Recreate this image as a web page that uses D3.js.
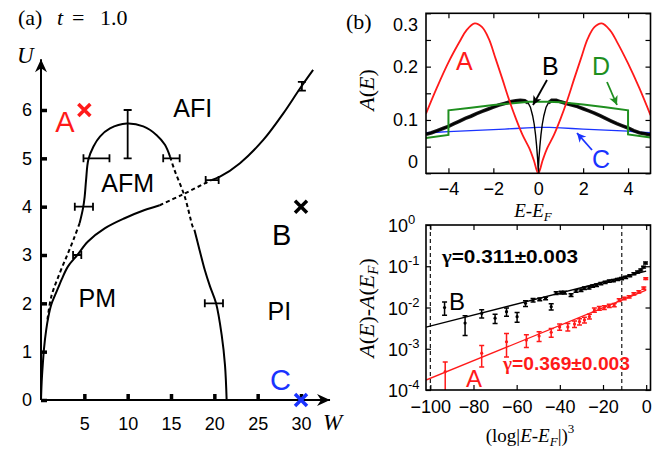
<!DOCTYPE html>
<html>
<head>
<meta charset="utf-8">
<script src="https://cdn.jsdelivr.net/npm/d3@7.9.0/dist/d3.min.js"></script>
<style>
  body { margin: 0; background: #fff; }
  svg { display: block; }
</style>
</head>
<body>
<svg id="fig" width="652" height="450"></svg>
<script>
// ---- panel (a): phase diagram, W on x, U on y ----
const wTicks = [5, 10, 15, 20, 25, 30];
const uTicks = [0, 1, 2, 3, 4, 5, 6];

const pmSolidW = [0, 0.08, 0.2, 0.35, 0.6, 0.85, 1.2, 1.62, 2.0, 2.4, 3.1, 4.19, 5.42, 7.35, 9.65, 11.96, 13.7];
const pmSolidU = [0, 0.38, 0.72, 1.07, 1.45, 1.72, 1.98, 2.17, 2.33, 2.5, 2.76, 3.0, 3.28, 3.55, 3.76, 3.93, 4.03];
const pmDashW = [13.7, 16.2, 19.65];
const pmDashU = [4.03, 4.24, 4.55];
const piSolidW = [19.65, 20.65, 22.96, 25.65, 27.96, 29.9, 31.4];
const piSolidU = [4.55, 4.62, 4.9, 5.38, 5.93, 6.45, 6.83];

const afmDomeW = [4.46, 4.85, 5.04, 5.2, 5.46, 6.04, 6.8, 7.96, 9.9, 11.8, 13.35, 14.3, 14.9];
const afmDomeU = [3.66, 3.97, 4.21, 4.55, 4.97, 5.24, 5.45, 5.62, 5.72, 5.66, 5.48, 5.28, 5.03];
const afmDashRW = [14.9, 15.4, 16.6, 17.5, 17.7];
const afmDashRU = [5.03, 4.76, 4.2, 3.59, 3.52];
const afmRightW = [17.7, 18.3, 18.9, 19.5, 20.2, 20.85, 21.23, 21.42];
const afmRightU = [3.52, 3.1, 2.69, 2.35, 2.0, 1.34, 0.72, 0];
const afmDotLW = [4.46, 3.88, 3.1, 2.15, 1.19, 0.7];
const afmDotLU = [3.66, 3.38, 3.03, 2.62, 2.14, 1.6];

// horizontal error bars: U, W low, W high
const hErrU = [5, 4, 3, 5, 4.55, 2];
const hErrLo = [4.9, 3.9, 3.7, 14.1, 19.0, 18.9];
const hErrHi = [7.9, 6.0, 4.65, 16.0, 20.5, 21.0];
// vertical error bars: W, U low, U high
const vErrW = [10, 30.1];
const vErrLo = [5, 6.4];
const vErrHi = [6, 6.58];

const markW = [5, 30, 30];
const markU = [6, 4, 0];
const markName = ['A', 'B', 'C'];
const markColor = ['#ff1a1a', '#000', '#1a33ff'];

const regionName = ['AFI', 'AFM', 'PM', 'PI'];
const regionW = [17.5, 10.0, 6.5, 27.5];
const regionU = [5.85, 4.3, 1.92, 1.65];

// ---- panel (b) top: A(E) ----
const eA = [-5, -4.5, -4, -3.5, -3.2, -2.83, -2.5, -2.2, -1.9, -1.6, -1.3, -1, -0.7, -0.4, -0.2, 0,
            0.2, 0.4, 0.7, 1, 1.3, 1.6, 1.9, 2.2, 2.5, 2.83, 3.2, 3.5, 4, 4.5, 5];
const dosA = [0.112, 0.162, 0.208, 0.247, 0.268, 0.281, 0.274, 0.252, 0.215, 0.177, 0.138, 0.103, 0.072, 0.047, 0.025, 0.0,
              0.025, 0.047, 0.072, 0.103, 0.138, 0.177, 0.215, 0.252, 0.274, 0.281, 0.268, 0.247, 0.206, 0.16, 0.109];

const eB = [-5, -4.75, -4.5, -4.25, -4, -3.75, -3.5, -3.25, -3, -2.75, -2.5, -2.25, -2, -1.75, -1.5, -1.25, -1, -0.8, -0.6,
            -0.45, -0.35, -0.25, -0.18, -0.12, -0.07, -0.03, 0, 0.03, 0.07, 0.12, 0.18, 0.25, 0.35, 0.45,
            0.6, 0.8, 1, 1.25, 1.5, 1.75, 2, 2.25, 2.5, 2.75, 3, 3.25, 3.5, 3.75, 4, 4.25, 4.5, 4.75, 5];
const dosB = [0.073, 0.076, 0.080, 0.084, 0.088, 0.093, 0.098, 0.103, 0.107, 0.112, 0.116, 0.120, 0.124, 0.128, 0.131, 0.134, 0.136, 0.137, 0.136,
              0.132, 0.124, 0.108, 0.092, 0.072, 0.05, 0.028, 0.004, 0.028, 0.05, 0.072, 0.092, 0.108, 0.124, 0.132,
              0.137, 0.137, 0.134, 0.131, 0.128, 0.125, 0.121, 0.117, 0.113, 0.108, 0.103, 0.098, 0.093, 0.089, 0.085, 0.080, 0.076, 0.074, 0.072];

const eC = [-5, -4.5, -4, -3.5, -3, -2.5, -2, -1.5, -1, -0.5, 0, 0.5, 1, 1.5, 2, 2.5, 3, 3.5, 4, 4.5, 5];
const dosC = [0.076, 0.077, 0.078, 0.079, 0.080, 0.081, 0.082, 0.083, 0.084, 0.085, 0.086, 0.086, 0.085, 0.084, 0.083, 0.082, 0.081, 0.080, 0.079, 0.077, 0.076];

const eD = [-5, -4, -4, -3, -2, -1, -0.4, 0, 0.4, 1, 2, 3, 4, 4, 5];
const dosD = [0.066, 0.072, 0.118, 0.123, 0.128, 0.132, 0.134, 0.134, 0.134, 0.133, 0.129, 0.124, 0.118, 0.073, 0.067];

const eTicks = [-4, -2, 0, 2, 4];
const dosTicks = [0, 0.05, 0.1, 0.15, 0.2, 0.25, 0.3];
const dosLabels = [0, 0.1, 0.2, 0.3];

// ---- panel (b) bottom: A(E)-A(E_F) vs (log|E-E_F|)^3 ----
const xB = [-93.4, -83.9, -76.2, -70, -64.7, -59.8, -55.9, -52.4, -49.3, -46.6, -44, -41.7, -39.4, -37.8, -34.8, -32.5,
            -30.2, -28.6, -26.5, -24.8, -23, -21, -19, -17.1, -15.2, -13.3, -11.4, -9.5, -7.6, -5.7, -4, -2.5, -1.2, -0.3];
const yB = [0.0100, 0.0042, 0.0072, 0.0055, 0.0079, 0.0060, 0.0126, 0.0151, 0.0158, 0.0166, 0.0105, 0.0224, 0.0229, 0.0229, 0.0200, 0.0251,
            0.0263, 0.0295, 0.0302, 0.0331, 0.0347, 0.0380, 0.0407, 0.0437, 0.0447, 0.0479, 0.0501, 0.0537, 0.0589, 0.0661, 0.0724, 0.0813, 0.0955, 0.120];
const errB = [0.0035, 0.0021, 0.0016, 0.0014, 0.0018, 0.0016, 0.0020, 0.0015, 0.0012, 0.0012, 0.0018, 0.0018, 0.0018, 0.0018, 0.0016, 0.0018,
              0.0018, 0.0020, 0.0020, 0.0022, 0.0022, 0.0024, 0.0025, 0.0026, 0.0027, 0.0028, 0.0030, 0.0032, 0.0034, 0.0038, 0.0040, 0.0044, 0.0050, 0.0060];

const xA = [-93.1, -76.2, -64.7, -55.5, -49.6, -44, -40.1, -36.3, -33.2, -30.9, -28.6, -26.3, -24, -21.7, -19.4, -17.1,
            -14.8, -12.5, -10.2, -7.9, -5.7, -3.4, -1.1, -0.2];
const yA = [2.8e-4, 7.8e-4, 1.48e-3, 1.62e-3, 2.04e-3, 2.51e-3, 3.39e-3, 3.39e-3, 3.98e-3, 4.57e-3, 5.01e-3, 6.03e-3, 8.7e-3, 9.55e-3, 0.0100, 0.0110,
            0.0115, 0.0151, 0.0166, 0.0182, 0.0214, 0.0240, 0.0295, 0.0501];
const errA = [2.0e-4, 4.2e-4, 8.5e-4, 5.5e-4, 5.5e-4, 6e-4, 6e-4, 7e-4, 7e-4, 8e-4, 8e-4, 8e-4, 1e-3, 1e-3, 1e-3, 1e-3,
              1e-3, 1.2e-3, 1.2e-3, 1.2e-3, 1.4e-3, 1.5e-3, 1.8e-3, 2.5e-3];

// straight fits (end points)
const fitBx = [-102, 0];
const fitBy = [3.35e-3, 0.076];
const fitAx = [-102, 0];
const fitAy = [1.74e-4, 0.0263];
const cutLines = [-100, -11.3];

const logXTicks = [-100, -80, -60, -40, -20, 0];
const logYTicks = [1e-4, 1e-3, 1e-2, 1e-1, 1];

// ---------------------------------------------------------------
const sans = '"Liberation Sans", Arial, sans-serif';
const serif = '"Liberation Serif", "Times New Roman", serif';
const red = '#ff1a1a', blue = '#1a33ff', green = '#1f8f1f';
const zip = (a, b) => a.map((v, i) => [v, b[i]]);

const svg = d3.select('#fig');
svg.append('rect').attr('width', 652).attr('height', 450).attr('fill', '#fff');

const defs = svg.append('defs');
defs.append('marker').attr('id', 'axArrow')
  .attr('viewBox', '-14 -7 15 14').attr('refX', 0).attr('refY', 0)
  .attr('markerWidth', 15).attr('markerHeight', 14)
  .attr('markerUnits', 'userSpaceOnUse').attr('orient', 'auto')
  .append('path').attr('d', 'M0,0 L-13,-6 L-9,0 L-13,6 Z').attr('fill', '#000');
[['k', '#000'], ['g', green], ['b', blue]].forEach(([id, c]) => {
  defs.append('marker').attr('id', 'ptr' + id)
    .attr('viewBox', '-10 -5 11 10').attr('refX', 0).attr('refY', 0)
    .attr('markerWidth', 11).attr('markerHeight', 10)
    .attr('markerUnits', 'userSpaceOnUse').attr('orient', 'auto')
    .append('path').attr('d', 'M0,0 L-9,-4.5 L-6.5,0 L-9,4.5 Z').attr('fill', c);
});

// ===== panel (a) =====
const xa = d3.scaleLinear().domain([0, 30]).range([41, 301]);
const ya = d3.scaleLinear().domain([0, 6]).range([400, 110]);
const curveA = d3.line().x(d => xa(d[0])).y(d => ya(d[1])).curve(d3.curveCatmullRom.alpha(0.5));

const ga = svg.append('g');
ga.append('text').attr('x', 18).attr('y', 25).attr('font-family', serif).attr('font-size', 22)
  .call(t => {
    t.append('tspan').text('(a)');
    t.append('tspan').attr('x', 57).attr('font-style', 'italic').text('t');
    t.append('tspan').attr('x', 72).text('=');
    t.append('tspan').attr('x', 100).text('1.0');
  });

// axes with arrows
ga.append('line').attr('x1', xa(0)).attr('y1', ya(0)).attr('x2', xa(33.35)).attr('y2', ya(0))
  .attr('stroke', '#000').attr('stroke-width', 2).attr('marker-end', 'url(#axArrow)');
ga.append('line').attr('x1', xa(0)).attr('y1', ya(0)).attr('x2', xa(0)).attr('y2', ya(7.05))
  .attr('stroke', '#000').attr('stroke-width', 2).attr('marker-end', 'url(#axArrow)');

ga.append('g').attr('transform', `translate(0,${ya(0)})`)
  .call(d3.axisBottom(xa).tickValues(wTicks).tickSize(-6).tickPadding(17))
  .call(g => g.select('.domain').remove())
  .call(g => g.selectAll('line').attr('stroke-width', 3.5))
  .attr('font-size', 18).attr('font-family', sans);
ga.append('g').attr('transform', `translate(${xa(0)},0)`)
  .call(d3.axisLeft(ya).tickValues(uTicks).tickSize(-6).tickPadding(9).tickFormat(d3.format('d')))
  .call(g => g.select('.domain').remove())
  .call(g => g.selectAll('line').attr('stroke-width', 3.5))
  .attr('font-size', 18).attr('font-family', sans);

ga.append('text').attr('x', 17).attr('y', 63).attr('font-family', serif).attr('font-style', 'italic')
  .attr('font-size', 23).text('U');
ga.append('text').attr('x', 323).attr('y', 430).attr('font-family', serif).attr('font-style', 'italic')
  .attr('font-size', 23).text('W');

// boundaries
const solidLines = [zip(pmSolidW, pmSolidU), zip(piSolidW, piSolidU), zip(afmDomeW, afmDomeU), zip(afmRightW, afmRightU)];
const dashedLines = [zip(pmDashW, pmDashU), zip(afmDashRW, afmDashRU), zip(afmDotLW, afmDotLU)];
ga.selectAll('path.solid').data(solidLines).join('path').attr('class', 'solid')
  .attr('d', curveA).attr('fill', 'none').attr('stroke', '#000').attr('stroke-width', 2);
ga.selectAll('path.dash').data(dashedLines).join('path').attr('class', 'dash')
  .attr('d', curveA).attr('fill', 'none').attr('stroke', '#000').attr('stroke-width', 2)
  .attr('stroke-dasharray', '4,3');

// error bars
hErrU.forEach((u, i) => {
  const y = ya(u), x1 = xa(hErrLo[i]), x2 = xa(hErrHi[i]);
  ga.append('path').attr('d', `M${x1},${y}H${x2}M${x1},${y - 4}V${y + 4}M${x2},${y - 4}V${y + 4}`)
    .attr('stroke', '#000').attr('stroke-width', 1.8).attr('fill', 'none');
});
vErrW.forEach((w, i) => {
  const x = xa(w), y1 = ya(vErrLo[i]), y2 = ya(vErrHi[i]);
  ga.append('path').attr('d', `M${x},${y1}V${y2}M${x - 4},${y1}H${x + 4}M${x - 4},${y2}H${x + 4}`)
    .attr('stroke', '#000').attr('stroke-width', 1.8).attr('fill', 'none');
});

// region labels
regionName.forEach((n, i) => {
  ga.append('text').attr('x', xa(regionW[i])).attr('y', ya(regionU[i])).attr('text-anchor', 'middle')
    .attr('font-family', sans).attr('font-size', 25).text(n);
});

// parameter points A, B, C
const markDx = [-29, -29, -31];
const markDy = [22, 38, -10];
markW.forEach((w, i) => {
  const x = xa(w), y = ya(markU[i]), s = 6;
  ga.append('path').attr('d', `M${x - s},${y - s}L${x + s},${y + s}M${x - s},${y + s}L${x + s},${y - s}`)
    .attr('stroke', markColor[i]).attr('stroke-width', 3.5);
  ga.append('text').attr('x', x + markDx[i]).attr('y', y + markDy[i]).attr('font-family', sans)
    .attr('font-size', 29).attr('fill', markColor[i]).text(markName[i]);
});

// ===== panel (b) top =====
const xt = d3.scaleLinear().domain([-5, 5]).range([426, 650.5]);
const yt = d3.scaleLinear().domain([0, 0.3]).range([173.3, 13.3]);
const gt = svg.append('g');
gt.append('text').attr('x', 346).attr('y', 29).attr('font-family', serif).attr('font-size', 22).text('(b)');
defs.append('clipPath').attr('id', 'clipT').append('rect')
  .attr('x', 426).attr('y', 13.3).attr('width', 224.5).attr('height', 160);

const lineT = d3.line().x(d => xt(d[0])).y(d => yt(d[1]));
const plotT = gt.append('g').attr('clip-path', 'url(#clipT)');
plotT.append('path').attr('d', lineT(zip(eC, dosC))).attr('fill', 'none').attr('stroke', blue).attr('stroke-width', 1.3);
plotT.append('path').attr('d', lineT.defined(d => Math.abs(d[0]) >= 0.4)(zip(eB, dosB)))
  .attr('fill', 'none').attr('stroke', '#000').attr('stroke-width', 3.6).attr('stroke-opacity', 0.9);
lineT.defined(() => true);
plotT.append('path').attr('d', lineT(zip(eB, dosB))).attr('fill', 'none').attr('stroke', '#000').attr('stroke-width', 1.4);
plotT.append('path').attr('d', lineT(zip(eD, dosD))).attr('fill', 'none').attr('stroke', green).attr('stroke-width', 2);
plotT.append('path').attr('d', d3.line().x(d => xt(d[0])).y(d => yt(d[1])).curve(d3.curveCatmullRom.alpha(0.5))(zip(eA, dosA)))
  .attr('fill', 'none').attr('stroke', red).attr('stroke-width', 1.8);

gt.append('rect').attr('x', 426).attr('y', 13.3).attr('width', 224.5).attr('height', 160)
  .attr('fill', 'none').attr('stroke', '#000').attr('stroke-width', 1.6);

const tickStyle = g => g.call(s => s.select('.domain').remove())
  .call(s => s.selectAll('line').attr('stroke-width', 1.2))
  .attr('font-size', 18).attr('font-family', sans);
gt.append('g').attr('transform', 'translate(0,173.3)')
  .call(d3.axisBottom(xt).tickValues(eTicks).tickSize(-5).tickPadding(9)).call(tickStyle);
gt.append('g').attr('transform', 'translate(0,13.3)')
  .call(d3.axisTop(xt).tickValues(eTicks).tickSize(-5).tickFormat('')).call(tickStyle);
gt.append('g').attr('transform', 'translate(426,0)')
  .call(d3.axisLeft(yt).tickValues(dosTicks).tickSize(-5).tickPadding(8)
    .tickFormat(d => dosLabels.some(v => Math.abs(v - d) < 1e-9) ? d3.format('.1~f')(d) : ''))
  .call(tickStyle)
  .call(g => g.selectAll('.tick text').attr('dy', d => d === 0 ? '-0.32em' : d === 0.3 ? '0.95em' : '0.32em'));
gt.append('g').attr('transform', 'translate(650.5,0)')
  .call(d3.axisRight(yt).tickValues(dosTicks).tickSize(-5).tickFormat('')).call(tickStyle);

gt.append('text').attr('transform', 'translate(374,90) rotate(-90)').attr('text-anchor', 'middle')
  .attr('font-family', serif).attr('font-size', 22)
  .call(t => {
    t.append('tspan').attr('font-style', 'italic').text('A');
    t.append('tspan').text('(');
    t.append('tspan').attr('font-style', 'italic').text('E');
    t.append('tspan').text(')');
  });
gt.append('text').attr('x', 533).attr('y', 217).attr('text-anchor', 'middle')
  .attr('font-family', serif).attr('font-style', 'italic').attr('font-size', 19)
  .call(t => {
    t.append('tspan').text('E');
    t.append('tspan').attr('font-style', 'normal').text('-');
    t.append('tspan').text('E');
    t.append('tspan').attr('font-size', 13).attr('dy', 4).text('F');
  });

// curve labels + arrows
const tagTxt = ['A', 'B', 'D', 'C'];
const tagCol = [red, '#000', green, blue];
const tagX = [456, 542, 592, 592];
const tagY = [70, 75, 75, 168];
tagTxt.forEach((t, i) => gt.append('text').attr('x', tagX[i]).attr('y', tagY[i]).attr('font-family', sans)
  .attr('font-size', 25).attr('fill', tagCol[i]).text(t));
const arrows = [[547, 80, 533, 105, '#000', 'k'], [607, 82, 617, 105, green, 'g'], [592, 150, 577, 133, blue, 'b']];
arrows.forEach(a => gt.append('line').attr('x1', a[0]).attr('y1', a[1]).attr('x2', a[2]).attr('y2', a[3])
  .attr('stroke', a[4]).attr('stroke-width', 1.8).attr('marker-end', `url(#ptr${a[5]})`));

// ===== panel (b) bottom =====
const xl = d3.scaleLinear().domain([-102, 2]).range([426, 650.5]);
const yl = d3.scaleLog().domain([1e-4, 1]).range([390, 225]);
const gl = svg.append('g');
defs.append('clipPath').attr('id', 'clipL').append('rect')
  .attr('x', 426).attr('y', 225).attr('width', 224.5).attr('height', 165);
const plotL = gl.append('g').attr('clip-path', 'url(#clipL)');

cutLines.forEach(c => plotL.append('line').attr('x1', xl(c)).attr('x2', xl(c)).attr('y1', 225).attr('y2', 390)
  .attr('stroke', '#000').attr('stroke-width', 1.1).attr('stroke-dasharray', '4,3'));

const lineL = d3.line().x(d => xl(d[0])).y(d => yl(d[1]));
plotL.append('path').attr('d', lineL(zip(fitBx, fitBy))).attr('stroke', '#000').attr('stroke-width', 1.3);
plotL.append('path').attr('d', lineL(zip(fitAx, fitAy))).attr('stroke', red).attr('stroke-width', 1.3);

function drawPoints(xs, ys, es, col) {
  xs.forEach((x, i) => {
    const px = xl(x), lo = Math.max(ys[i] - es[i], 1e-5), hi = ys[i] + es[i];
    const y1 = yl(lo), y2 = yl(hi);
    plotL.append('path').attr('d', `M${px},${y1}V${y2}M${px - 2.5},${y1}H${px + 2.5}M${px - 2.5},${y2}H${px + 2.5}`)
      .attr('stroke', col).attr('stroke-width', 1.5).attr('fill', 'none');
    plotL.append('circle').attr('cx', px).attr('cy', yl(ys[i])).attr('r', 1.6).attr('fill', col);
  });
}
drawPoints(xB, yB, errB, '#000');
drawPoints(xA, yA, errA, red);

gl.append('rect').attr('x', 426).attr('y', 225).attr('width', 224.5).attr('height', 165)
  .attr('fill', 'none').attr('stroke', '#000').attr('stroke-width', 1.6);

gl.append('g').attr('transform', 'translate(0,390)')
  .call(d3.axisBottom(xl).tickValues(logXTicks).tickSize(-5).tickPadding(10)).call(tickStyle);
gl.append('g').attr('transform', 'translate(0,225)')
  .call(d3.axisTop(xl).tickValues(logXTicks).tickSize(-5).tickFormat('')).call(tickStyle);
gl.append('g').attr('transform', 'translate(426,0)')
  .call(d3.axisLeft(yl).tickValues(logYTicks).tickSize(-5).tickFormat('')).call(tickStyle);
gl.append('g').attr('transform', 'translate(650.5,0)')
  .call(d3.axisRight(yl).tickValues(logYTicks).tickSize(-5).tickFormat('')).call(tickStyle);

logYTicks.forEach(v => {
  const y = yl(v), k = Math.round(Math.log10(v));
  gl.append('text').attr('x', 408).attr('y', y + 7).attr('text-anchor', 'end')
    .attr('font-family', sans).attr('font-size', 18).text('10');
  gl.append('text').attr('x', 408).attr('y', y - 1).attr('font-family', sans).attr('font-size', 13).text(String(k));
});

gl.append('text').attr('x', 442).attr('y', 263).attr('font-size', 19).attr('font-weight', 'bold')
  .attr('textLength', 136).attr('lengthAdjust', 'spacingAndGlyphs')
  .call(t => {
    t.append('tspan').attr('font-family', serif).text('γ');
    t.append('tspan').attr('font-family', sans).text('=0.311±0.003');
  });
gl.append('text').attr('x', 503).attr('y', 370).attr('font-size', 19).attr('font-weight', 'bold').attr('fill', red)
  .attr('textLength', 127).attr('lengthAdjust', 'spacingAndGlyphs')
  .call(t => {
    t.append('tspan').attr('font-family', serif).text('γ');
    t.append('tspan').attr('font-family', sans).text('=0.369±0.003');
  });
gl.append('text').attr('x', 449).attr('y', 310).attr('font-family', sans).attr('font-size', 24).text('B');
gl.append('text').attr('x', 466).attr('y', 387).attr('font-family', sans).attr('font-size', 24).attr('fill', red).text('A');

gl.append('text').attr('transform', 'translate(374,308) rotate(-90)').attr('text-anchor', 'middle')
  .attr('font-family', serif).attr('font-size', 22)
  .call(t => {
    t.append('tspan').attr('font-style', 'italic').text('A');
    t.append('tspan').text('(');
    t.append('tspan').attr('font-style', 'italic').text('E');
    t.append('tspan').text(')-');
    t.append('tspan').attr('font-style', 'italic').text('A');
    t.append('tspan').text('(');
    t.append('tspan').attr('font-style', 'italic').text('E');
    t.append('tspan').attr('font-style', 'italic').attr('font-size', 15).attr('dy', 4).text('F');
    t.append('tspan').attr('dy', -4).text(')');
  });
gl.append('text').attr('x', 530).attr('y', 442).attr('text-anchor', 'middle')
  .attr('font-family', serif).attr('font-size', 19)
  .call(t => {
    t.append('tspan').text('(log|');
    t.append('tspan').attr('font-style', 'italic').text('E');
    t.append('tspan').text('-');
    t.append('tspan').attr('font-style', 'italic').text('E');
    t.append('tspan').attr('font-style', 'italic').attr('font-size', 13).attr('dy', 4).text('F');
    t.append('tspan').attr('dy', -4).text('|)');
    t.append('tspan').attr('font-size', 13).attr('dy', -9).text('3');
  });
</script>
</body>
</html>
